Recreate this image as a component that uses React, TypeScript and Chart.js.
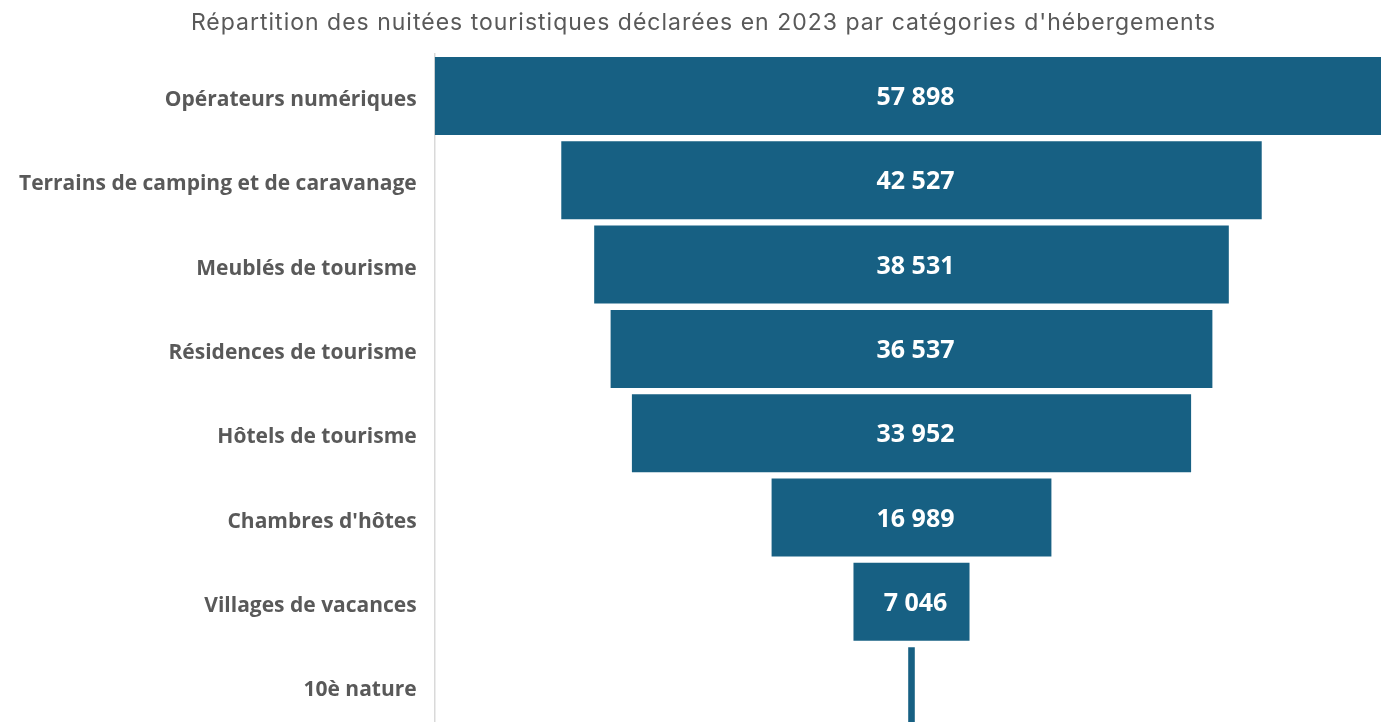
import React, { useEffect, useRef } from "react";
import { Chart, registerables } from "chart.js";

Chart.register(...registerables);

const TITLE = "Répartition des nuitées touristiques déclarées en 2023 par catégories d'hébergements";
const categories = [
  "Opérateurs numériques",
  "Terrains de camping et de caravanage",
  "Meublés de tourisme",
  "Résidences de tourisme",
  "Hôtels de tourisme",
  "Chambres d'hôtes",
  "Villages de vacances",
  "10è nature",
];
const values = [57898, 42527, 38531, 36537, 33952, 16989, 7046, 400];

const BAR_COLOR = "#176083";
const TEXT_GRAY = "#595959";

function fmt(v: number): string {
  return String(Math.round(v)).replace(/\B(?=(\d{3})+(?!\d))/g, " ");
}

const CANVAS_W = 1400;
const CANVAS_H = 740;

export default function App() {
  const ref = useRef<HTMLCanvasElement | null>(null);

  useEffect(() => {
    if (!ref.current) return;
    const maxV = Math.max(...values);
    const half = maxV / 2;

    const labelPlugin = {
      id: "funnelLabels",
      afterDatasetsDraw(chart: any) {
        const ctx = chart.ctx;
        const meta = chart.getDatasetMeta(0);
        ctx.save();
        ctx.font = "bold 25px 'Open Sans'";
        ctx.fillStyle = "#ffffff";
        ctx.textAlign = "center";
        ctx.textBaseline = "middle";
        meta.data.forEach((el: any, i: number) => {
          const text = fmt(values[i]);
          const w = Math.abs(el.x - el.base);
          if (ctx.measureText(text).width + 10 > w) return;
          ctx.fillText(text, (el.x + el.base) / 2 + 4, el.y + 2);
        });
        ctx.restore();
      },
    };

    const titlePlugin = {
      id: "customTitle",
      afterDraw(chart: any) {
        const ctx = chart.ctx;
        ctx.save();
        ctx.font = "23px Inter";
        (ctx as any).letterSpacing = "1px";
        ctx.fillStyle = TEXT_GRAY;
        ctx.textAlign = "center";
        ctx.textBaseline = "middle";
        ctx.fillText(TITLE, 703.5, 23);
        ctx.restore();
      },
    };

    const chart = new Chart(ref.current, {
      type: "bar",
      data: {
        labels: categories,
        datasets: [
          {
            data: values.map((v) => [-v / 2, v / 2]) as any,
            backgroundColor: BAR_COLOR,
            borderWidth: 0,
            barPercentage: 0.925,
            categoryPercentage: 1,
          },
        ],
      },
      options: {
        indexAxis: "y",
        responsive: false,
        animation: false,
        layout: { padding: { left: 0, right: 11.7, top: 53.85, bottom: 11.7 } },
        plugins: { legend: { display: false }, tooltip: { enabled: false }, title: { display: false } },
        scales: {
          x: { display: false, min: -half, max: half },
          y: {
            afterFit(scale: any) {
              scale.width = 434.7;
              scale.paddingTop = 0;
              scale.paddingBottom = 0;
            },
            grid: { display: false, drawTicks: false },
            border: { display: true, color: "#d9d9d9", width: 1.5 },
            ticks: {
              color: TEXT_GRAY,
              padding: 18,
              labelOffset: 4,
              font: { family: "'Open Sans'", weight: "bold", size: 21 },
            },
          },
        },
      },
      plugins: [labelPlugin, titlePlugin],
    });
    return () => chart.destroy();
  }, []);

  return (
    <div style={{ position: "fixed", left: 0, top: 0, width: 1381, height: 722, overflow: "hidden", background: "#fff" }}>
      <canvas ref={ref} width={CANVAS_W} height={CANVAS_H} style={{ width: CANVAS_W, height: CANVAS_H, display: "block" }} />
    </div>
  );
}
